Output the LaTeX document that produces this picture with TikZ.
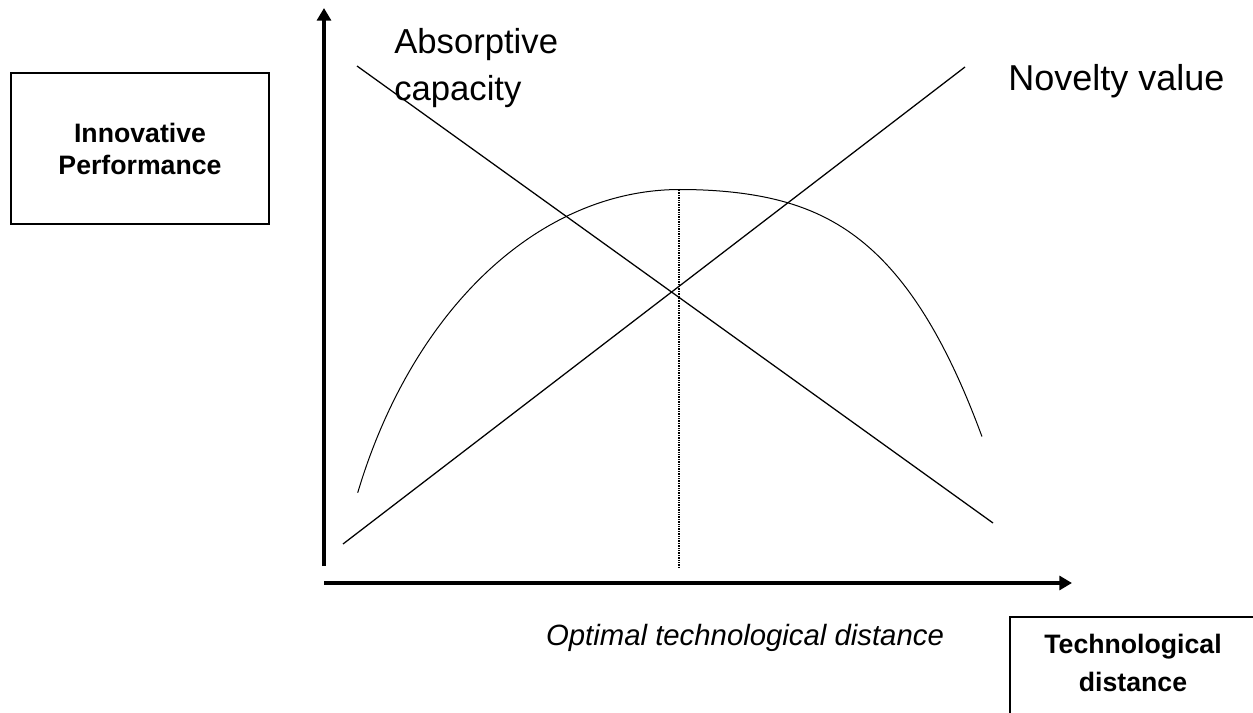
\documentclass[tikz,border=0pt]{standalone}
\usepackage{fontspec}
\setmainfont{Liberation Sans}
\usetikzlibrary{arrows.meta}
\tikzset{
  axis/.style={line width=3pt,-{Triangle[length=9.5pt,width=10.5pt]}},
  trendline/.style={line width=0.95pt},
  curveline/.style={line width=0.75pt},
  optline/.style={line width=1.3pt,dash pattern=on 1pt off 0.8pt},
  boxline/.style={line width=1.5pt},
  boxtext/.style={font=\bfseries\fontsize{20}{24}\selectfont,align=center,inner sep=0pt},
  labelbox/.style={draw,boxline,boxtext},
  biglabel/.style={font=\fontsize{27}{33}\selectfont,inner sep=0pt}
}
\begin{document}
\begin{tikzpicture}[x=0.75pt,y=-0.75pt]
\useasboundingbox (0,0) rectangle (1253,713);
% boxes
\node[labelbox,minimum width=258*0.75pt,minimum height=151*0.75pt] (perf) at (140,148.5) {Innovative\\Performance};
\draw[boxline] (1010,617) rectangle (1260,722);
\node[boxtext,font=\bfseries\fontsize{20}{28}\selectfont] (techd) at (1133,663) {Technological\\distance};
% axes
\coordinate (yb) at (324,566);
\coordinate (yt) at (324,8);
\coordinate (xl) at (324,583);
\coordinate (xr) at (1072,583);
\draw[axis] (yb) -- (yt);
\draw[axis] (xl) -- (xr);
% lines
\coordinate (a1) at (357,66);
\coordinate (a2) at (993,523);
\coordinate (n1) at (343,544);
\coordinate (n2) at (965,67);
\draw[trendline] (a1) -- (a2);
\draw[trendline] (n1) -- (n2);
% curve
\draw[curveline] plot[domain=322.3:0,samples=70,smooth] ({680-\x},{189.5+497*(1-sqrt(1-(\x/350)^2))})
  -- plot[domain=0:3.02,samples=70,smooth] ({680+100*\x},{189.5+9.18*\x*\x+1.965*\x^4});
% optimal distance
\coordinate (o1) at (679,190);
\coordinate (o2) at (679,568);
\draw[optline] (o1) -- (o2);
% labels
\node[biglabel,font=\fontsize{26}{35}\selectfont,anchor=north west,align=left] (absc) at (394,28) {Absorptive\\capacity};
\node[biglabel,anchor=base west] (nov) at (1008,91) {Novelty value};
\node[inner sep=0pt,font=\itshape\fontsize{22}{26}\selectfont,anchor=base] (opt) at (745,645) {Optimal technological distance};
\end{tikzpicture}
\end{document}
